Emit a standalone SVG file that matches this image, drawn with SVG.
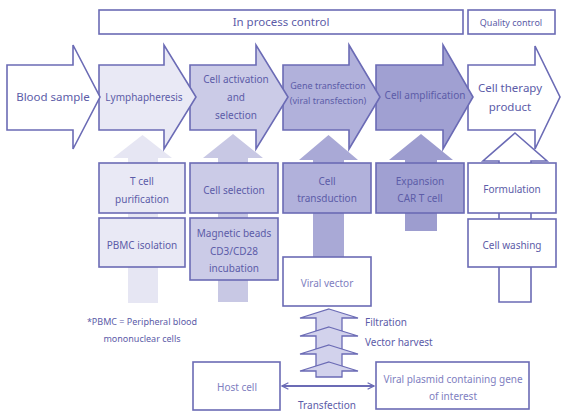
<svg xmlns="http://www.w3.org/2000/svg" width="561" height="413" viewBox="0 0 561 413">
<defs>
<style>
text{font-family:"Noto Sans","Open Sans","DejaVu Sans",sans-serif;fill:#5c5ca8;text-anchor:middle;font-size:10px}
.s{stroke:#6b6bb5;stroke-width:1.6;stroke-linejoin:miter}
.w{fill:#ffffff}
.c1{fill:#e9e9f5}
.c2{fill:#cbcbe7}
.c3{fill:#b1b1db}
.c4{fill:#a0a0d2}
.big{font-size:11.5px}
.sm{font-size:9px}
.st{fill:#d2d2ec;stroke:#6b6bb5;stroke-width:1.3}
</style>
<marker id="ah" viewBox="0 0 10 10" refX="9" refY="5" markerWidth="8" markerHeight="8" orient="auto-start-reverse" markerUnits="userSpaceOnUse">
<path d="M1,1 L9,5 L1,9" fill="none" stroke="#6b6bb5" stroke-width="1.6"/>
</marker>
</defs>
<rect width="561" height="413" fill="#ffffff"/>

<g id="header">
<rect class="s w" x="99" y="10" width="364" height="24"/>
<text class="big" x="281" y="26">In process control</text>
<rect class="s w" x="468" y="10" width="87" height="24"/>
<text class="sm" x="511" y="25.5">Quality control</text>
</g>

<!-- vertical support arrows -->
<g id="connectors">
<path id="up1" d="M142.5,135 L172,158 H158 V303 H128 V158 H113 Z" fill="#e6e6f3"/>
<path id="up2" d="M233,134 L263,158 H248 V302 H218 V158 H203 Z" fill="#c8c8e4"/>
<path id="up3" d="M328.5,135 L358,160 H344 V257 H313 V160 H299 Z" fill="#a9a9d6"/>
<path id="up4" d="M421,134 L453,160 H437 V231 H405 V160 H389 Z" fill="#9d9dcf"/>
<path id="up5" class="s w" d="M515,133 L547,161 H531 V302 H499 V161 H483 Z"/>
<g id="stack">
<path class="st" d="M329,309 L358,318 H342 V331 H316 V318 H300 Z"/>
<path class="st" d="M329,327 L358,336 H342 V349 H316 V336 H300 Z"/>
<path class="st" d="M329,345 L358,354 H342 V367 H316 V354 H300 Z"/>
<path class="st" d="M329,362 L358,371 H342 V377 H316 V371 H300 Z"/>
</g>
<line x1="282" y1="386" x2="374" y2="386" stroke="#6b6bb5" stroke-width="2" marker-start="url(#ah)" marker-end="url(#ah)"/>
<text x="327" y="409">Transfection</text>
<text x="365" y="326" style="text-anchor:start">Filtration</text>
<text x="365" y="346" style="text-anchor:start">Vector harvest</text>
</g>

<!-- main process arrows, drawn right to left -->
<g id="n-product">
<path class="s w" d="M468,65 H535 V46 L560,97 L535,149 V130 H468 Z"/>
<text class="big" x="510" y="92">Cell therapy</text>
<text class="big" x="510" y="111">product</text>
</g>
<g id="n-amplification">
<path class="s c4" d="M376,65 H443 V45 L473,97 L443,149 V130 H376 Z"/>
<text x="425" y="99">Cell amplification</text>
</g>
<g id="n-gene">
<path class="s c3" d="M283,65 H349 V45 L380,97 L349,149 V130 H283 Z"/>
<text class="sm" x="328" y="89">Gene transfection</text>
<text class="sm" x="328" y="104">(viral transfection)</text>
</g>
<g id="n-activation">
<path class="s c2" d="M190,65 H256 V45 L288,97 L256,149 V130 H190 Z"/>
<text x="236" y="82.5">Cell activation</text>
<text x="236" y="100.5">and</text>
<text x="236" y="118.5">selection</text>
</g>
<g id="n-lymph">
<path class="s c1" d="M99,65 H164 V45 L196,97 L164,149 V130 H99 Z"/>
<text x="144" y="100.5">Lymphapheresis</text>
</g>
<g id="n-blood">
<path class="s w" d="M7,65 H73 V45 L100,97 L73,149 V130 H7 Z"/>
<text class="big" x="53" y="101">Blood sample</text>
</g>

<!-- boxes -->
<g id="n-tcell">
<rect class="s c1" x="99" y="163" width="86" height="50"/>
<text x="142" y="184.5">T cell</text>
<text x="142" y="202.5">purification</text>
</g>
<g id="n-pbmc">
<rect class="s c1" x="99" y="218" width="86" height="49"/>
<text x="142" y="248.5">PBMC isolation</text>
</g>
<g id="n-cellsel">
<rect class="s c2" x="190" y="163" width="88" height="50"/>
<text x="234" y="193.5">Cell selection</text>
</g>
<g id="n-beads">
<rect class="s c2" x="190" y="218" width="88" height="62"/>
<text x="234" y="236.5">Magnetic beads</text>
<text x="234" y="254.5">CD3/CD28</text>
<text x="234" y="271.5">incubation</text>
</g>
<g id="n-transduction">
<rect class="s c3" x="283" y="163" width="88" height="50"/>
<text x="327" y="184.5">Cell</text>
<text x="327" y="201.5">transduction</text>
</g>
<g id="n-expansion">
<rect class="s c4" x="376" y="163" width="88" height="50"/>
<text x="420" y="184.5">Expansion</text>
<text x="420" y="201.5">CAR T cell</text>
</g>
<g id="n-formulation">
<rect class="s w" x="468" y="163" width="88" height="50"/>
<text x="512" y="192.5">Formulation</text>
</g>
<g id="n-washing">
<rect class="s w" x="468" y="219" width="88" height="48"/>
<text x="512" y="248.5">Cell washing</text>
</g>
<g id="n-viral">
<rect class="s w" x="283" y="257" width="88" height="49"/>
<text x="327" y="286.5" style="fill:#8080bf">Viral vector</text>
</g>
<g id="n-host">
<rect class="s w" x="193" y="362" width="87" height="48"/>
<text x="237" y="390.5" style="fill:#8080bf">Host cell</text>
</g>
<g id="n-plasmid">
<rect class="s w" x="376" y="362" width="153" height="47"/>
<text x="453" y="382.5" style="fill:#8080bf">Viral plasmid containing gene</text>
<text x="453" y="399.5" style="fill:#8080bf">of interest</text>
</g>
<g id="note">
<text class="sm" x="142" y="325">*PBMC = Peripheral blood</text>
<text class="sm" x="142" y="342">mononuclear cells</text>
</g>
</svg>
